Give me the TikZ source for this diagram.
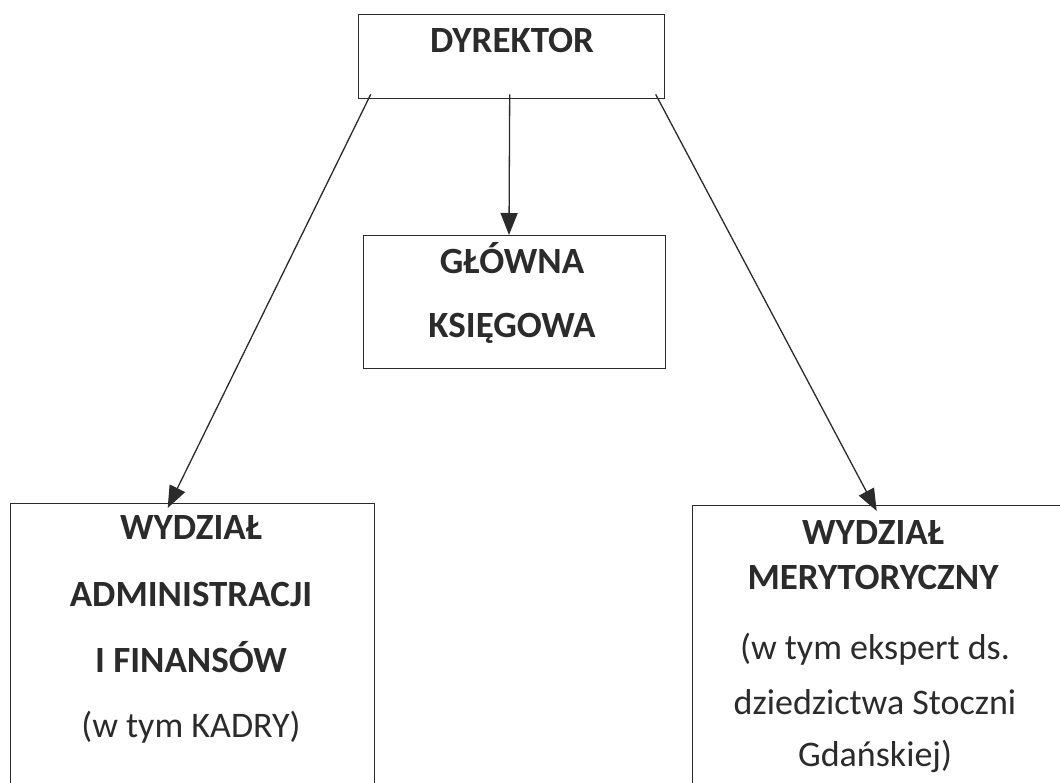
\documentclass[tikz,border=0pt]{standalone}
\usepackage{fontspec}
\setmainfont{Carlito}
\usetikzlibrary{arrows.meta}
\definecolor{ink}{HTML}{2B2B2B}
\tikzset{
  box/.style={draw=ink, line width=1.4pt, rectangle, inner sep=0pt},
  ttl/.style={font=\fontsize{37}{42}\selectfont\bfseries, text=ink, anchor=base, inner sep=0pt},
  sub/.style={font=\fontsize{36}{42}\selectfont, text=ink, anchor=base, inner sep=0pt},
  arr/.style={draw=ink, line width=1.3pt, -{Triangle[length=22pt,width=17pt]}}
}
\begin{document}
\begin{tikzpicture}[x=1pt,y=-1pt]
\useasboundingbox (0,0) rectangle (1060,782);
\fill[white] (0,0) rectangle (1060,782);
\begin{scope}
\clip (0,0) rectangle (1060,782);
% boxes
\node[box, minimum width=306pt, minimum height=84pt, anchor=north west] (dyr) at (358,14) {};
\node[box, minimum width=302pt, minimum height=133pt, anchor=north west] (gk) at (363,235) {};
\node[box, minimum width=364pt, minimum height=320pt, anchor=north west] (adm) at (10,503) {};
\node[box, minimum width=380pt, minimum height=320pt, anchor=north west] (mer) at (692,505) {};
% texts
\node[ttl] (t1) at (512,52) {DYREKTOR};
\node[ttl] (t2) at (512,273) {GŁÓWNA};
\node[ttl] (t3) at (512,337) {KSIĘGOWA};
\node[ttl] (t4) at (191,539) {WYDZIAŁ};
\node[ttl] (t5) at (191,606) {ADMINISTRACJI};
\node[ttl] (t6) at (191,672) {I FINANSÓW};
\node[sub] (t7) at (191,737) {(w tym KADRY)};
\node[ttl] (t8) at (873,544) {WYDZIAŁ};
\node[ttl] (t9) at (873,589) {MERYTORYCZNY};
\node[sub] (t10) at (875,659) {(w tym ekspert ds.};
\node[sub] (t11) at (875,714) {dziedzictwa Stoczni};
\node[sub] (t12) at (875,766) {Gdańskiej)};
% arrows
\draw[arr] ([xshift=-141pt,yshift=5pt]dyr.south) -- ([xshift=-25pt,yshift=-5pt]adm.north);
\draw[arr] ([xshift=-2pt,yshift=5pt]dyr.south) -- ([xshift=146pt]gk.north west);
\draw[arr] ([xshift=144pt,yshift=5pt]dyr.south) -- ([xshift=-6pt,yshift=-6pt]mer.north);
\end{scope}
\end{tikzpicture}
\end{document}
